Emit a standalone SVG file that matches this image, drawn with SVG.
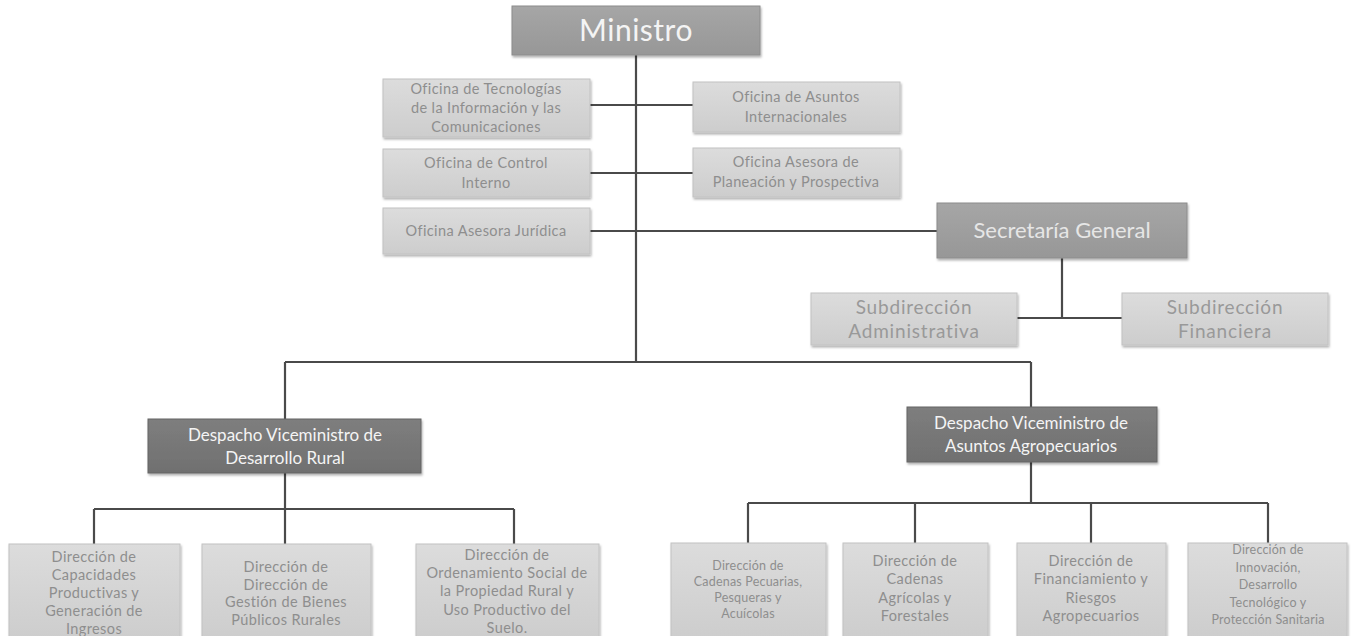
<svg xmlns="http://www.w3.org/2000/svg" width="1353" height="636" viewBox="0 0 1353 636">
<defs>
<linearGradient id="gLight" x1="0" y1="0" x2="0" y2="1">
<stop offset="0" stop-color="#dcdcdc"/><stop offset="1" stop-color="#cdcdcd"/>
</linearGradient>
<linearGradient id="gMid" x1="0" y1="0" x2="0" y2="1">
<stop offset="0" stop-color="#a6a6a6"/><stop offset="1" stop-color="#979797"/>
</linearGradient>
<linearGradient id="gDark" x1="0" y1="0" x2="0" y2="1">
<stop offset="0" stop-color="#7e7e7e"/><stop offset="1" stop-color="#707070"/>
</linearGradient>
<filter id="sh" x="-5%" y="-10%" width="110%" height="130%">
<feDropShadow dx="1" dy="2" stdDeviation="1.2" flood-color="#000" flood-opacity="0.3"/>
</filter>
</defs>
<style>
.light{fill:url(#gLight);filter:url(#sh);stroke:#c2c2c2;stroke-width:1}
.mid{fill:url(#gMid);filter:url(#sh);stroke:#8c8c8c;stroke-width:1}
.dark{fill:url(#gDark);filter:url(#sh);stroke:#646464;stroke-width:1}
text{font-family:Lato,"Open Sans","Liberation Sans",sans-serif;text-anchor:middle}
.t{fill:#8e8e8e;font-size:14.5px;letter-spacing:0.4px}
.ts{fill:#8e8e8e;font-size:12.5px;letter-spacing:0.2px}
.tsub{fill:#999999;font-size:19px;letter-spacing:0.8px}
.tw{fill:#f4f4f4}
.conn{fill:none;stroke:#4a4a4a;stroke-width:2.2}
</style>
<rect width="1353" height="636" fill="#ffffff"/>
<g id="connectors" class="conn">
<path d="M636 55V362"/>
<path d="M590 105H693"/>
<path d="M590 173H693"/>
<path d="M590 231H937"/>
<path d="M1062 258V318"/>
<path d="M1017 318H1122"/>
<path d="M285 362H1031"/>
<path d="M285 362V419"/>
<path d="M1031 362V407"/>
<path d="M285 473V509"/>
<path d="M94 509H514"/>
<path d="M94 509V544"/>
<path d="M285 509V544"/>
<path d="M514 509V544"/>
<path d="M1031 462V503"/>
<path d="M748 503H1268"/>
<path d="M748 503V543"/>
<path d="M915 503V543"/>
<path d="M1091 503V543"/>
<path d="M1268 503V543"/>
</g>
<g id="ministro">
<rect class="mid" x="512" y="6" width="248" height="49"/>
<text class="tw" x="636" y="41" font-size="30" letter-spacing="0.5">Ministro</text>
</g>
<g id="of-tic">
<rect class="light" x="383" y="79" width="207" height="58"/>
<text class="t" x="486" y="94">Oficina de Tecnologías</text>
<text class="t" x="486" y="113">de la Información y las</text>
<text class="t" x="486" y="132">Comunicaciones</text>
</g>
<g id="of-asuntos">
<rect class="light" x="693" y="82" width="207" height="50"/>
<text class="t" x="796" y="102">Oficina de Asuntos</text>
<text class="t" x="796" y="122">Internacionales</text>
</g>
<g id="of-control">
<rect class="light" x="383" y="149" width="207" height="48"/>
<text class="t" x="486" y="168">Oficina de Control</text>
<text class="t" x="486" y="188">Interno</text>
</g>
<g id="of-planeacion">
<rect class="light" x="693" y="148" width="207" height="49"/>
<text class="t" x="796" y="167">Oficina Asesora de</text>
<text class="t" x="796" y="187">Planeación y Prospectiva</text>
</g>
<g id="of-juridica">
<rect class="light" x="383" y="208" width="207" height="46"/>
<text class="t" x="486" y="236">Oficina Asesora Jurídica</text>
</g>
<g id="secretaria">
<rect class="mid" x="937" y="203" width="250" height="55"/>
<text x="1062" y="238" font-size="22" fill="#e6e6e6">Secretaría General</text>
</g>
<g id="sub-admin">
<rect class="light" x="811" y="293" width="206" height="52"/>
<text class="tsub" x="914" y="314">Subdirección</text>
<text class="tsub" x="914" y="338">Administrativa</text>
</g>
<g id="sub-fin">
<rect class="light" x="1122" y="293" width="206" height="52"/>
<text class="tsub" x="1225" y="314">Subdirección</text>
<text class="tsub" x="1225" y="338">Financiera</text>
</g>
<g id="vm-rural">
<rect class="dark" x="148" y="419" width="273" height="54"/>
<text class="tw" x="285" y="441" font-size="17">Despacho Viceministro de</text>
<text class="tw" x="285" y="464" font-size="17">Desarrollo Rural</text>
</g>
<g id="vm-agro">
<rect class="dark" x="907" y="407" width="250" height="55"/>
<text class="tw" x="1031" y="429" font-size="17">Despacho Viceministro de</text>
<text class="tw" x="1031" y="452" font-size="17">Asuntos Agropecuarios</text>
</g>
<g id="dir-capacidades">
<rect class="light" x="9" y="544" width="171" height="95"/>
<text class="t" x="94" y="562">Dirección de</text>
<text class="t" x="94" y="580">Capacidades</text>
<text class="t" x="94" y="598">Productivas y</text>
<text class="t" x="94" y="616">Generación de</text>
<text class="t" x="94" y="634">Ingresos</text>
</g>
<g id="dir-bienes">
<rect class="light" x="202" y="544" width="169" height="95"/>
<text class="t" x="286" y="572">Dirección de</text>
<text class="t" x="286" y="590">Dirección de</text>
<text class="t" x="286" y="607">Gestión de Bienes</text>
<text class="t" x="286" y="625">Públicos Rurales</text>
</g>
<g id="dir-ordenamiento">
<rect class="light" x="416" y="544" width="183" height="95"/>
<text class="t" x="507" y="560">Dirección de</text>
<text class="t" x="507" y="578">Ordenamiento Social de</text>
<text class="t" x="507" y="596">la Propiedad Rural y</text>
<text class="t" x="507" y="615">Uso Productivo del</text>
<text class="t" x="507" y="633">Suelo.</text>
</g>
<g id="dir-pecuarias">
<rect class="light" x="671" y="543" width="155" height="96"/>
<text class="ts" x="748" y="570">Dirección de</text>
<text class="ts" x="748" y="586">Cadenas Pecuarias,</text>
<text class="ts" x="748" y="602">Pesqueras y</text>
<text class="ts" x="748" y="618">Acuícolas</text>
</g>
<g id="dir-agricolas">
<rect class="light" x="843" y="543" width="145" height="96"/>
<text class="t" x="915" y="566">Dirección de</text>
<text class="t" x="915" y="584">Cadenas</text>
<text class="t" x="915" y="603">Agrícolas y</text>
<text class="t" x="915" y="621">Forestales</text>
</g>
<g id="dir-financiamiento">
<rect class="light" x="1017" y="543" width="149" height="96"/>
<text class="t" x="1091" y="566">Dirección de</text>
<text class="t" x="1091" y="584">Financiamiento y</text>
<text class="t" x="1091" y="603">Riesgos</text>
<text class="t" x="1091" y="621">Agropecuarios</text>
</g>
<g id="dir-innovacion">
<rect class="light" x="1188" y="543" width="159" height="96"/>
<text class="ts" x="1268" y="554">Dirección de</text>
<text class="ts" x="1268" y="572">Innovación,</text>
<text class="ts" x="1268" y="589">Desarrollo</text>
<text class="ts" x="1268" y="607">Tecnológico y</text>
<text class="ts" x="1268" y="624">Protección Sanitaria</text>
</g>
</svg>
